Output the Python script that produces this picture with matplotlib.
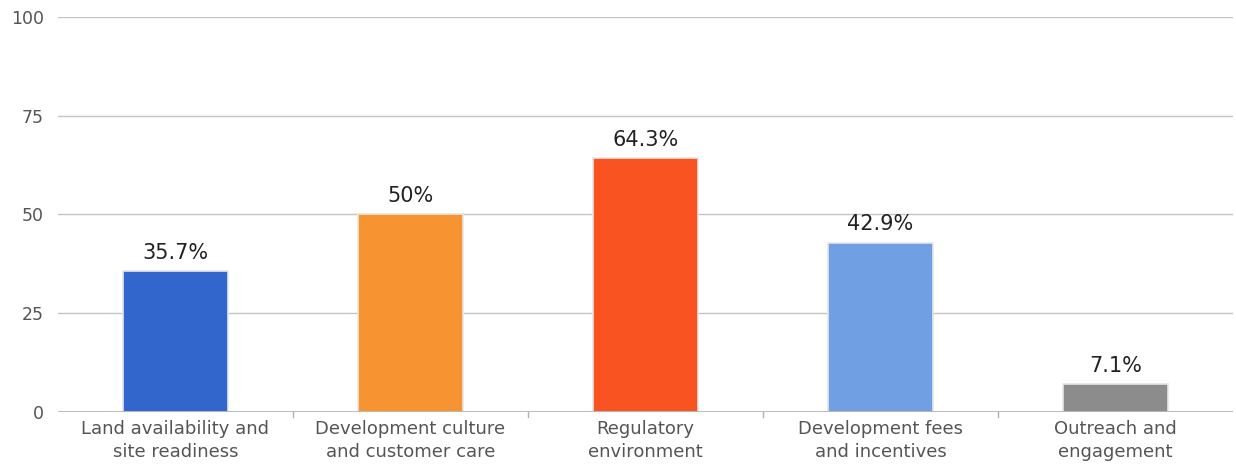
import matplotlib.pyplot as plt

categories = [
    "Land availability and\nsite readiness",
    "Development culture\nand customer care",
    "Regulatory\nenvironment",
    "Development fees\nand incentives",
    "Outreach and\nengagement",
]
values = [35.7, 50, 64.3, 42.9, 7.1]
value_labels = ["35.7%", "50%", "64.3%", "42.9%", "7.1%"]
colors = ["#3366cc", "#f79331", "#f95322", "#719fe3", "#8c8c8c"]

fig = plt.figure(figsize=(12.36, 4.66), dpi=100)
ax = fig.add_axes([0.0469, 0.1159, 0.9507, 0.8476])

ax.set_xlim(-0.5, len(categories) - 0.5)
ax.set_ylim(0, 100)

# gridlines behind the bars
for yv in [25, 50, 75, 100]:
    ax.axhline(yv, color="#c4c4c4", lw=1.0, zorder=0)
ax.axhline(0, color="#b0b0b0", lw=1.2, zorder=3)

x = range(len(categories))
bars = ax.bar(x, values, width=0.45, color=colors, edgecolor="#e6e6e6",
              linewidth=1.2, zorder=2)

for b, lab in zip(bars, value_labels):
    ax.annotate(lab, (b.get_x() + b.get_width() / 2, b.get_height()),
                xytext=(0, 6), textcoords="offset points",
                ha="center", va="bottom", fontsize=15, color="#222222")

for s in ax.spines.values():
    s.set_visible(False)

ax.set_yticks([0, 25, 50, 75, 100])
ax.tick_params(axis="y", length=0, pad=10, labelsize=12.5, labelcolor="#555555")
ax.set_xticks(list(x))
ax.set_xticklabels(categories, fontsize=13, color="#555555", linespacing=1.3)
ax.tick_params(axis="x", length=0, pad=6)

# small separators between categories below the axis
for bx in [0.5, 1.5, 2.5, 3.5]:
    ax.plot([bx, bx], [0, -1.3], color="#b0b0b0", lw=1, clip_on=False, zorder=3)

fig.savefig("out.png", dpi=100)
